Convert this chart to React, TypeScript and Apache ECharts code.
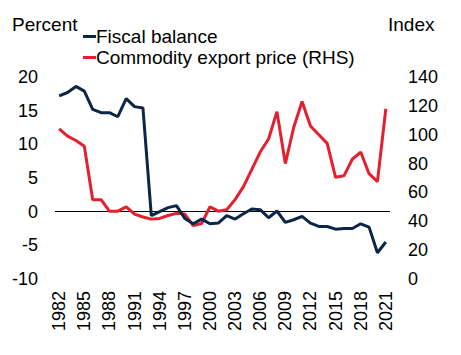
import React, { useEffect, useRef } from "react";
import * as echarts from "echarts";

const years = [
  "1982","1983","1984","1985","1986","1987","1988","1989","1990","1991",
  "1992","1993","1994","1995","1996","1997","1998","1999","2000","2001",
  "2002","2003","2004","2005","2006","2007","2008","2009","2010","2011",
  "2012","2013","2014","2015","2016","2017","2018","2019","2020","2021",
];

const fiscalBalance = [
  17.2, 17.7, 18.6, 17.9, 15.2, 14.7, 14.7, 14.1, 16.8, 15.6,
  15.4, -0.6, 0.0, 0.6, 0.9, -1.0, -1.8, -1.1, -1.8, -1.7,
  -0.6, -1.1, -0.3, 0.4, 0.3, -0.9, 0.1, -1.6, -1.2, -0.7,
  -1.7, -2.2, -2.2, -2.6, -2.5, -2.5, -1.8, -2.3, -6.1, -4.5,
];

const commodityPrice = [
  104, 99, 96, 92, 55, 55, 47, 47, 50, 45,
  43, 41.5, 42, 44, 45.5, 45, 37, 38.5, 50, 47,
  48, 55, 64, 76, 88, 97, 116, 80, 105, 123,
  106, 100, 94, 70.5, 71.5, 83, 88, 73, 67.5, 118,
];

const seriesNames = ["Fiscal balance", "Commodity export price (RHS)"];
const leftTitle = "Percent";
const rightTitle = "Index";

const NAVY = "#0b2646";
const RED = "#e41f2f";
const FONT = "'Liberation Sans', Arial, sans-serif";

export default function App() {
  const ref = useRef<HTMLDivElement>(null);
  useEffect(() => {
    if (!ref.current) return;
    const chart = echarts.init(ref.current, undefined, { renderer: "svg" });
    chart.setOption({
      animation: false,
      textStyle: { fontFamily: FONT, color: "#000" },
      grid: { left: 55, right: 71, top: 77, bottom: 76 },
      legend: {
        orient: "vertical",
        left: 83,
        top: 27,
        padding: 0,
        itemWidth: 13,
        itemHeight: 3,
        itemGap: 2,
        icon: "rect",
        textStyle: { fontSize: 19, color: "#000", fontFamily: FONT, padding: [0, 0, 0, -5] },
        data: seriesNames,
      },
      graphic: [
        { type: "text", left: 12, top: 15, style: { text: leftTitle, fontSize: 19, fontFamily: FONT, fill: "#000" } },
        { type: "text", left: 388, top: 15, style: { text: rightTitle, fontSize: 19, fontFamily: FONT, fill: "#000" } },
      ],
      xAxis: {
        type: "category",
        data: years,
        boundaryGap: true,
        axisLine: { show: false },
        axisTick: { show: false },
        axisLabel: { rotate: 90, interval: 2, fontSize: 18, color: "#000", margin: 12, fontFamily: FONT },
        splitLine: { show: false },
      },
      yAxis: [
        {
          type: "value",
          min: -10,
          max: 20,
          interval: 5,
          axisLine: { show: false },
          axisTick: { show: false },
          splitLine: { show: false },
          axisLabel: { fontSize: 18, color: "#000", margin: 17, fontFamily: FONT },
        },
        {
          type: "value",
          min: 0,
          max: 140,
          interval: 20,
          position: "right",
          axisLine: { show: false },
          axisTick: { show: false },
          splitLine: { show: false },
          axisLabel: { fontSize: 18, color: "#000", margin: 18, fontFamily: FONT },
        },
      ],
      series: [
        {
          name: seriesNames[0],
          type: "line",
          yAxisIndex: 0,
          data: fiscalBalance,
          showSymbol: false,
          symbol: "none",
          lineStyle: { color: NAVY, width: 3 },
          itemStyle: { color: NAVY },
          z: 3,
          markLine: {
            silent: true,
            symbol: "none",
            label: { show: false },
            lineStyle: { color: "#000", width: 1, type: "solid" },
            data: [{ yAxis: 0 }],
            z: 1,
          },
        },
        {
          name: seriesNames[1],
          type: "line",
          yAxisIndex: 1,
          data: commodityPrice,
          showSymbol: false,
          symbol: "none",
          lineStyle: { color: RED, width: 3 },
          itemStyle: { color: RED },
          z: 2,
        },
      ],
    });
    return () => chart.dispose();
  }, []);
  return <div ref={ref} style={{ width: 461, height: 355, position: "absolute", left: 0, top: 0 }} />;
}
